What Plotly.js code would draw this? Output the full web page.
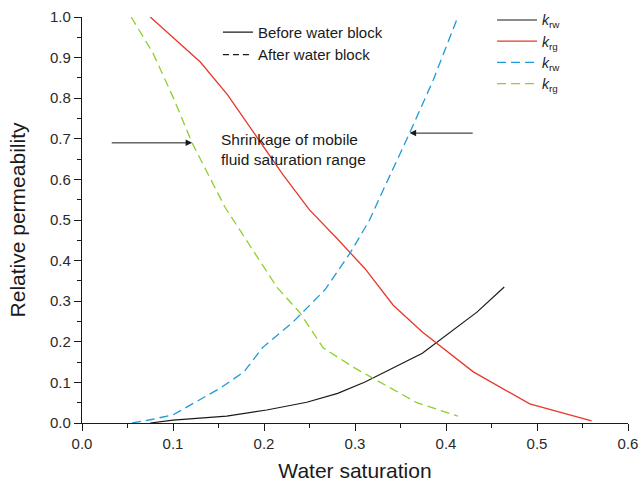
<!DOCTYPE html>
<html>
<head>
<meta charset="utf-8">
<script src="https://cdn.plot.ly/plotly-3.0.1.min.js"></script>
<style>html,body{margin:0;padding:0;background:#fff;}#chart{width:641px;height:482px;}</style>
</head>
<body>
<div id="chart"></div>
<script>
// Before water block
var krwBeforeX = [0.075, 0.1, 0.159, 0.203, 0.247, 0.281, 0.311, 0.374, 0.434, 0.464];
var krwBeforeY = [0, 0.007, 0.017, 0.032, 0.051, 0.073, 0.101, 0.172, 0.273, 0.335];
var krgBeforeX = [0.075, 0.1, 0.13, 0.16, 0.221, 0.25, 0.28, 0.311, 0.342, 0.374, 0.43, 0.492, 0.56];
var krgBeforeY = [1.0, 0.95, 0.889, 0.808, 0.611, 0.525, 0.455, 0.38, 0.29, 0.224, 0.126, 0.047, 0.005];
// After water block
var krwAfterX = [0.055, 0.075, 0.1, 0.13, 0.152, 0.178, 0.199, 0.232, 0.267, 0.295, 0.316, 0.331, 0.36, 0.386, 0.413];
var krwAfterY = [0, 0.008, 0.02, 0.057, 0.086, 0.126, 0.187, 0.249, 0.328, 0.42, 0.5, 0.574, 0.714, 0.845, 1.0];
var krgAfterX = [0.054, 0.078, 0.1, 0.121, 0.157, 0.214, 0.24, 0.265, 0.3, 0.34, 0.368, 0.413];
var krgAfterY = [1.0, 0.911, 0.803, 0.69, 0.532, 0.335, 0.27, 0.185, 0.135, 0.085, 0.05, 0.017];

var seriesNames = ['<i>k</i><sub>rw</sub>', '<i>k</i><sub>rg</sub>', '<i>k</i><sub>rw</sub>', '<i>k</i><sub>rg</sub>'];
var styleNames = ['Before water block', 'After water block'];
var annotText = 'Shrinkage of mobile<br>fluid saturation range';

var FONT = 'Liberation Sans, Arial, sans-serif';
var INK = '#1a1a1a';

var traces = [
  {x: krwBeforeX, y: krwBeforeY, name: seriesNames[0], mode: 'lines', line: {color: INK, width: 1.2}},
  {x: krgBeforeX, y: krgBeforeY, name: seriesNames[1], mode: 'lines', line: {color: '#e8372c', width: 1.3}},
  {x: krwAfterX, y: krwAfterY, name: seriesNames[2], mode: 'lines', line: {color: '#1f9ad6', width: 1.3, dash: '9px,5px'}},
  {x: krgAfterX, y: krgAfterY, name: seriesNames[3], mode: 'lines', line: {color: '#8ccf2e', width: 1.3, dash: '9px,5px'}},
  {x: [null], y: [null], name: styleNames[0], mode: 'lines', line: {color: INK, width: 1.3}, legend: 'legend2', hoverinfo: 'skip'},
  {x: [null], y: [null], name: styleNames[1], mode: 'lines', line: {color: INK, width: 1.3, dash: '6px,4px'}, legend: 'legend2', hoverinfo: 'skip'}
];

var layout = {
  width: 641, height: 482,
  margin: {l: 82, r: 13, t: 17, b: 59, autoexpand: false},
  paper_bgcolor: '#fff', plot_bgcolor: '#fff',
  font: {family: FONT, size: 14, color: INK},
  showlegend: true,
  legend: {
    x: 0.751, y: 1.031, xanchor: 'left', yanchor: 'top',
    bgcolor: 'rgba(0,0,0,0)', borderwidth: 0,
    font: {family: FONT, size: 14, color: INK},
    itemwidth: 40, tracegroupgap: 0
  },
  legend2: {
    x: 0.249, y: 1.003, xanchor: 'left', yanchor: 'top',
    bgcolor: 'rgba(0,0,0,0)', borderwidth: 0,
    font: {family: FONT, size: 15, color: INK},
    itemwidth: 30
  },
  xaxis: {
    range: [0, 0.6], dtick: 0.1, tick0: 0, tickformat: '.1f',
    showgrid: false, zeroline: false, showline: true, linecolor: INK, linewidth: 1.2,
    ticks: 'outside', ticklen: 7, tickwidth: 1, tickcolor: INK,
    minor: {dtick: 0.05, tick0: 0, ticks: 'outside', ticklen: 4, tickwidth: 1, tickcolor: INK, showgrid: false},
    tickfont: {family: FONT, size: 15, color: '#2a2a2a'},
    title: {text: 'Water saturation', font: {family: FONT, size: 21, color: INK}, standoff: 13}
  },
  yaxis: {
    range: [0, 1], dtick: 0.1, tick0: 0, tickformat: '.1f',
    showgrid: false, zeroline: false, showline: true, linecolor: INK, linewidth: 1.2,
    ticks: 'outside', ticklen: 7, tickwidth: 1, tickcolor: INK,
    minor: {dtick: 0.05, tick0: 0, ticks: 'outside', ticklen: 4, tickwidth: 1, tickcolor: INK, showgrid: false},
    tickfont: {family: FONT, size: 15, color: '#2a2a2a'},
    title: {text: 'Relative permeability', font: {family: FONT, size: 21, color: INK}, standoff: 18}
  },
  annotations: [
    {x: 0.121, y: 0.69, ax: 0.031, ay: 0.69, xref: 'x', yref: 'y', axref: 'x', ayref: 'y',
     showarrow: true, arrowhead: 2, arrowsize: 1.3, arrowwidth: 1, arrowcolor: INK, text: ''},
    {x: 0.36, y: 0.714, ax: 0.431, ay: 0.714, xref: 'x', yref: 'y', axref: 'x', ayref: 'y',
     showarrow: true, arrowhead: 2, arrowsize: 1.3, arrowwidth: 1, arrowcolor: INK, text: ''},
    {x: 0.15, y: 0.725, xref: 'x', yref: 'y', xanchor: 'left', yanchor: 'top', align: 'left',
     showarrow: false, text: annotText, font: {family: FONT, size: 15.5, color: INK}}
  ]
};

Plotly.newPlot('chart', traces, layout, {displayModeBar: false, staticPlot: true});
</script>
</body>
</html>
